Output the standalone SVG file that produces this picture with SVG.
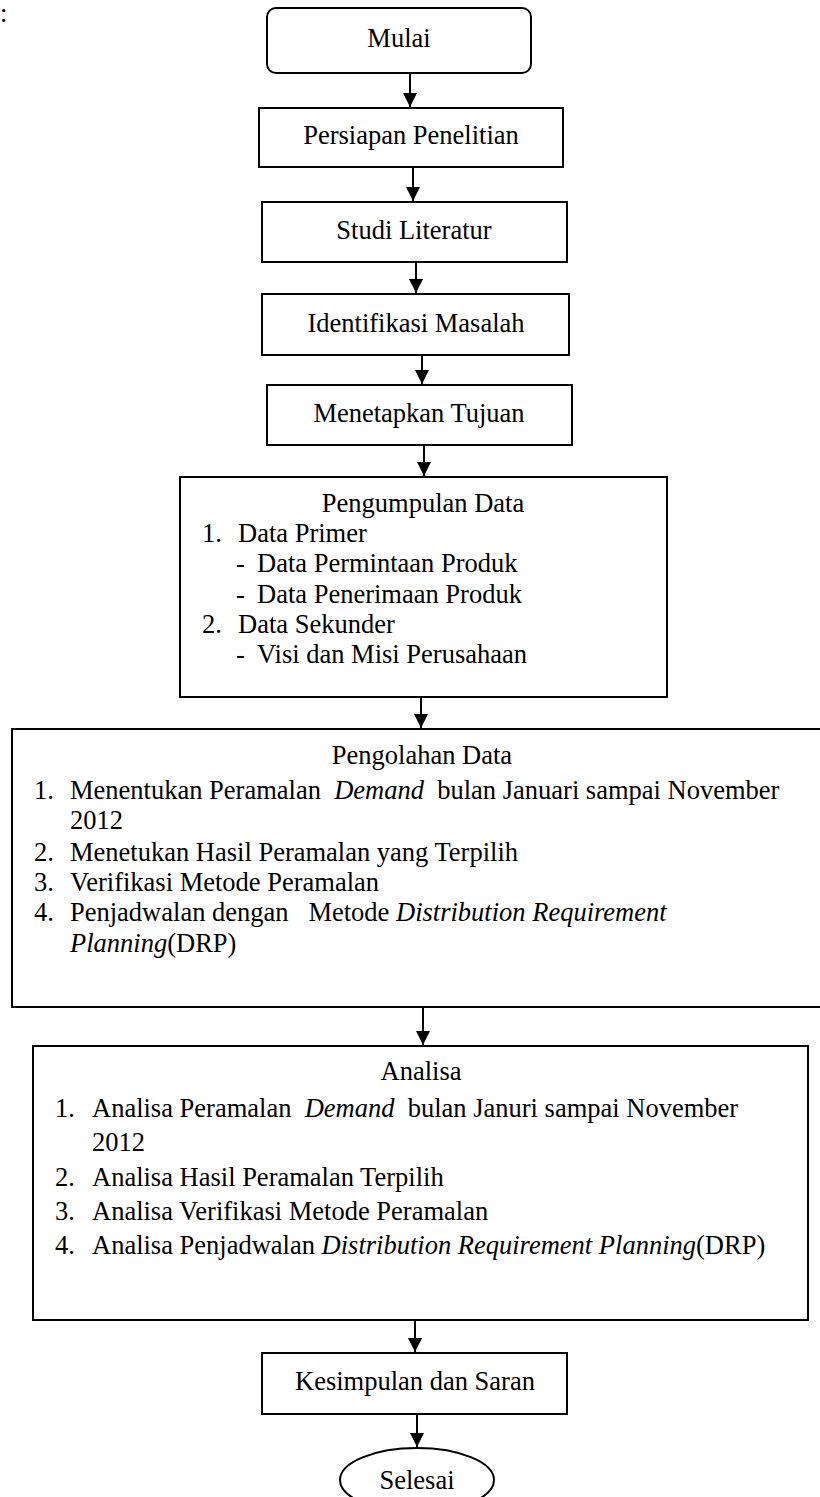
<svg xmlns="http://www.w3.org/2000/svg" width="820" height="1497" viewBox="0 0 820 1497">
<style>
.box{fill:#fff;stroke:#000;stroke-width:2}
.t{font-family:"Liberation Serif","Times New Roman",serif;font-size:26.5px;fill:#000;white-space:pre}
.c{text-anchor:middle}
.i{font-style:italic}
.edge{stroke:#000;stroke-width:2;fill:none;marker-end:url(#ah)}
</style>
<defs>
<marker id="ah" markerUnits="userSpaceOnUse" markerWidth="14" markerHeight="14" refX="14" refY="7" orient="auto">
<path d="M0,0 L14,7 L0,14 Z" fill="#000"/>
</marker>
</defs>
<rect width="820" height="1497" fill="#fff"/>
<text class="t" x="0" y="22">:</text>
<g id="connectors">
<line class="edge" x1="410" y1="73" x2="410" y2="107"/>
<line class="edge" x1="413" y1="167" x2="413" y2="201"/>
<line class="edge" x1="416" y1="262" x2="416" y2="293"/>
<line class="edge" x1="422" y1="355" x2="422" y2="384"/>
<line class="edge" x1="424" y1="445" x2="424" y2="476"/>
<line class="edge" x1="421" y1="697" x2="421" y2="728"/>
<line class="edge" x1="423" y1="1007" x2="423" y2="1045"/>
<line class="edge" x1="415" y1="1320" x2="415" y2="1352"/>
<line class="edge" x1="417" y1="1414" x2="417" y2="1447"/>
</g>
<g id="mulai">
<rect class="box" x="267" y="8" width="264" height="65" rx="9"/>
<text class="t c" x="399" y="47">Mulai</text>
</g>
<g id="persiapan">
<rect class="box" x="259" y="108" width="304" height="59"/>
<text class="t c" x="411" y="144">Persiapan Penelitian</text>
</g>
<g id="studi">
<rect class="box" x="262" y="202" width="305" height="60"/>
<text class="t c" x="414" y="239">Studi Literatur</text>
</g>
<g id="identifikasi">
<rect class="box" x="262" y="294" width="307" height="61"/>
<text class="t c" x="416" y="332">Identifikasi Masalah</text>
</g>
<g id="menetapkan">
<rect class="box" x="267" y="385" width="305" height="60"/>
<text class="t c" x="419" y="422">Menetapkan Tujuan</text>
</g>
<g id="pengumpulan">
<rect class="box" x="180" y="477" width="487" height="220"/>
<text class="t c" x="423" y="512">Pengumpulan Data</text>
<text class="t" x="202" y="542">1.</text>
<text class="t" x="238" y="542">Data Primer</text>
<text class="t" x="236" y="572">-</text>
<text class="t" x="257" y="572">Data Permintaan Produk</text>
<text class="t" x="236" y="603">-</text>
<text class="t" x="257" y="603">Data Penerimaan Produk</text>
<text class="t" x="202" y="633">2.</text>
<text class="t" x="238" y="633">Data Sekunder</text>
<text class="t" x="236" y="663">-</text>
<text class="t" x="257" y="663">Visi dan Misi Perusahaan</text>
</g>
<g id="pengolahan">
<rect class="box" x="12" y="729" width="820" height="278"/>
<text class="t c" x="422" y="764">Pengolahan Data</text>
<text class="t" x="34" y="799">1.</text>
<text class="t" x="70" y="799">Menentukan Peramalan  <tspan class="i">Demand</tspan>  bulan Januari sampai November</text>
<text class="t" x="70" y="829">2012</text>
<text class="t" x="34" y="861">2.</text>
<text class="t" x="70" y="861">Menetukan Hasil Peramalan yang Terpilih</text>
<text class="t" x="34" y="891">3.</text>
<text class="t" x="70" y="891">Verifikasi Metode Peramalan</text>
<text class="t" x="34" y="921">4.</text>
<text class="t" x="70" y="921">Penjadwalan dengan   Metode <tspan class="i">Distribution Requirement</tspan></text>
<text class="t" x="70" y="952"><tspan class="i">Planning</tspan>(DRP)</text>
</g>
<g id="analisa">
<rect class="box" x="33" y="1046" width="775" height="274"/>
<text class="t c" x="421" y="1080">Analisa</text>
<text class="t" x="55" y="1117">1.</text>
<text class="t" x="92" y="1117">Analisa Peramalan  <tspan class="i">Demand</tspan>  bulan Januri sampai November</text>
<text class="t" x="92" y="1151">2012</text>
<text class="t" x="55" y="1186">2.</text>
<text class="t" x="92" y="1186">Analisa Hasil Peramalan Terpilih</text>
<text class="t" x="55" y="1220">3.</text>
<text class="t" x="92" y="1220">Analisa Verifikasi Metode Peramalan</text>
<text class="t" x="55" y="1254">4.</text>
<text class="t" x="92" y="1254">Analisa Penjadwalan <tspan class="i">Distribution Requirement Planning</tspan>(DRP)</text>
</g>
<g id="kesimpulan">
<rect class="box" x="262" y="1353" width="305" height="61"/>
<text class="t c" x="415" y="1390">Kesimpulan dan Saran</text>
</g>
<g id="selesai">
<ellipse class="box" cx="417" cy="1480" rx="77" ry="32"/>
<text class="t c" x="417" y="1489">Selesai</text>
</g>
</svg>
